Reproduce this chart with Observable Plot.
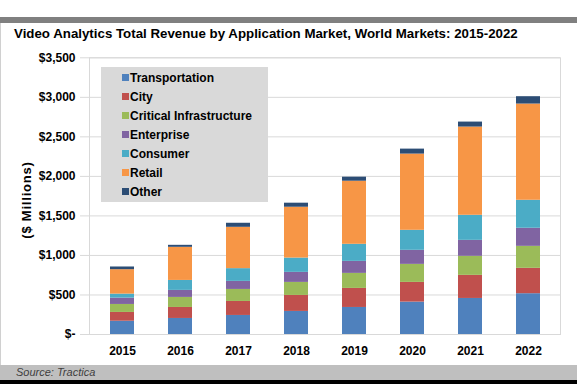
<!DOCTYPE html>
<html>
<head>
<meta charset="utf-8">
<script src="https://cdn.jsdelivr.net/npm/d3@7"></script>
<script src="https://cdn.jsdelivr.net/npm/@observablehq/plot@0.6"></script>
<style>
  html, body { margin: 0; padding: 0; background: #fff; }
  #root { position: relative; width: 577px; height: 384px; overflow: hidden; font-family: "Liberation Sans", Arial, sans-serif; background: #fff; }
  #topbar { position: absolute; left: 0; top: 17px; width: 577px; height: 6px; background: #808080; }
  #leftline { position: absolute; left: 0; top: 23px; width: 1px; height: 342px; background: #d0d0d0; }
  #title { position: absolute; left: 14px; top: 26px; font-size: 13.3px; font-weight: bold; line-height: 16px; color: #000; white-space: nowrap; }
  #chart { position: absolute; left: 0; top: 40px; }
  #ytitle { position: absolute; left: 26px; top: 200px; transform: translate(-50%, -50%) rotate(-90deg); font-size: 13px; letter-spacing: 0.8px; font-weight: bold; white-space: nowrap; color: #000; }
  #legend { position: absolute; left: 101px; top: 67px; width: 167px; height: 135px; background: #d9d9d9; box-sizing: border-box; padding-left: 21px; padding-top: 1px; }
  .row { display: flex; align-items: center; height: 19px; font-size: 12px; font-weight: bold; color: #000; white-space: nowrap; }
  .sw { display: inline-block; width: 7px; height: 7px; margin-right: 1px; }
  #source { position: absolute; left: 0; top: 365px; width: 577px; height: 15px; background: #bfbfbf; }
  #source span { position: absolute; left: 16px; top: 0; line-height: 15px; font-size: 11px; font-style: italic; color: #404040; }
  #bottombar { position: absolute; left: 0; top: 380px; width: 577px; height: 4px; background: #000; }
</style>
</head>
<body>
<div id="root">
  <div id="topbar"></div>
  <div id="leftline"></div>
  <div id="title">Video Analytics Total Revenue by Application Market, World Markets: 2015-2022</div>
  <div id="chart"></div>
  <div id="ytitle">($ Millions)</div>
  <div id="legend"></div>
  <div id="source"><span>Source: Tractica</span></div>
  <div id="bottombar"></div>
</div>
<script>
const years = ["2015", "2016", "2017", "2018", "2019", "2020", "2021", "2022"];
const series = ["Transportation", "City", "Critical Infrastructure", "Enterprise", "Consumer", "Retail", "Other"];
const colors = ["#4f81bd", "#c0504d", "#9bbb59", "#8064a2", "#4bacc6", "#f79646", "#2c4d75"];

const transportation = [168, 203, 241, 292, 342, 410, 456, 516];
const city = [111, 139, 177, 202, 241, 249, 292, 321];
const criticalInfrastructure = [101, 127, 152, 165, 190, 228, 241, 278];
const enterprise = [80, 89, 102, 127, 152, 178, 202, 229];
const consumer = [51, 126, 161, 181, 216, 253, 317, 354];
const retail = [309, 419, 523, 643, 798, 964, 1116, 1217];
const other = [34, 25, 51, 51, 51, 63, 63, 93];

const yTicks = [0, 500, 1000, 1500, 2000, 2500, 3000, 3500];

const seriesValues = [transportation, city, criticalInfrastructure, enterprise, consumer, retail, other];
const data = years.flatMap((year, i) =>
  series.map((s, j) => ({ year, series: s, value: seriesValues[j][i] }))
);

const fmt = d3.format(",");
const chart = Plot.plot({
  width: 577,
  height: 320,
  marginTop: 17.3,
  marginBottom: 26,
  marginLeft: 89,
  marginRight: 17,
  style: { fontFamily: "'Liberation Sans', Arial, sans-serif", fontSize: "12px", fontWeight: "bold", color: "#000", background: "transparent" },
  x: { domain: years, paddingInner: 0.59, paddingOuter: 0.29, label: null },
  y: { domain: [0, 3500], label: null },
  color: { domain: series, range: colors },
  marks: [
    Plot.gridY(yTicks, { stroke: "#d9d9d9", strokeOpacity: 1 }),
    Plot.frame({ stroke: "#d9d9d9" }),
    Plot.barY(data, { x: "year", y: "value", fill: "series", order: series }),
    Plot.axisY(yTicks, { tickSize: 9, tickPadding: 5, stroke: "#d9d9d9", fill: "#000", label: null, tickFormat: d => d === 0 ? "$-" : "$" + fmt(d) }),
    Plot.axisX({ tickSize: 0, tickPadding: 12, label: null, fill: "#000" })
  ]
});
document.getElementById("chart").appendChild(chart);

const legend = document.getElementById("legend");
series.forEach((s, i) => {
  const row = document.createElement("div");
  row.className = "row";
  const sw = document.createElement("span");
  sw.className = "sw";
  sw.style.background = colors[i];
  const t = document.createElement("span");
  t.textContent = s;
  row.appendChild(sw);
  row.appendChild(t);
  legend.appendChild(row);
});
</script>
</body>
</html>
